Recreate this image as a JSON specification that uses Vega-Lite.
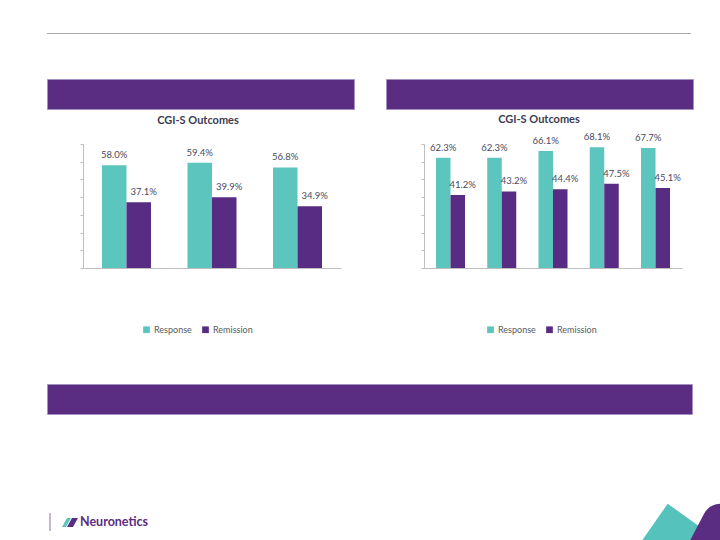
{
  "$schema": "https://vega.github.io/schema/vega-lite/v6.json",
  "background": "white",
  "padding": {"left": 46, "top": 33, "right": 0, "bottom": 0},
  "config": {
    "view": {"stroke": null},
    "font": "Lato",
    "axis": {"grid": false, "title": null, "domainColor": "#bfbfbf", "tickColor": "#bfbfbf"}
  },
  "resolve": {"legend": {"color": "independent"}, "scale": {"x": "independent", "y": "independent", "xOffset": "independent", "color": "independent"}},
  "spacing": 44,
  "vconcat": [
    {
      "width": 644, "height": 1,
      "view": {"fill": "#a9a9a9", "stroke": null},
      "data": {"values": [{}]},
      "mark": {"type": "point", "size": 0, "strokeWidth": 0, "opacity": 0},
      "encoding": {}
    },
    {
      "spacing": 4,
      "resolve": {"legend": {"color": "independent"}, "scale": {"x": "independent", "y": "independent", "xOffset": "independent", "color": "independent"}},
      "vconcat": [
        {
          "spacing": 30,
          "hconcat": [
            {
              "width": 307, "height": 30,
              "view": {"fill": "#5a2d82", "stroke": "#a690c2", "strokeWidth": 1},
              "data": {"values": [{}]},
              "mark": {"type": "point", "size": 0, "strokeWidth": 0, "opacity": 0},
              "encoding": {}
            },
            {
              "width": 307, "height": 30,
              "view": {"fill": "#5a2d82", "stroke": "#a690c2", "strokeWidth": 1},
              "data": {"values": [{}]},
              "mark": {"type": "point", "size": 0, "strokeWidth": 0, "opacity": 0},
              "encoding": {}
            }
          ]
        },
        {
          "spacing": 48,
          "resolve": {"legend": {"color": "independent"}, "scale": {"x": "independent", "y": "independent", "xOffset": "independent", "color": "independent"}},
          "vconcat": [
            {
              "spacing": 0,
              "resolve": {"legend": {"color": "independent"}, "scale": {"x": "independent", "y": "independent", "xOffset": "independent", "color": "independent"}},
              "hconcat": [
                {
                  "width": 1, "height": 1,
                  "data": {"values": [{}]},
                  "mark": {"type": "point", "size": 0, "strokeWidth": 0, "opacity": 0},
                  "encoding": {}
                },
                {
                  "width": 258, "height": 124,
                  "title": {"text": "CGI-S Outcomes", "frame": "group", "anchor": "middle", "dx": -14, "fontSize": 11, "font": "Lato", "fontWeight": "bold", "color": "#3c3c50", "offset": 18},
                  "data": {"values": [
                    {"group": "1", "measure": "Response", "value": 0.580},
                    {"group": "1", "measure": "Remission", "value": 0.371},
                    {"group": "2", "measure": "Response", "value": 0.594},
                    {"group": "2", "measure": "Remission", "value": 0.399},
                    {"group": "3", "measure": "Response", "value": 0.568},
                    {"group": "3", "measure": "Remission", "value": 0.349}
                  ]},
                  "encoding": {
                    "x": {"field": "group", "type": "nominal", "scale": {"paddingInner": 0.427, "paddingOuter": 0.222}, "axis": {"labels": false, "ticks": false}},
                    "xOffset": {"field": "measure", "type": "nominal", "sort": ["Response", "Remission"]},
                    "y": {"field": "value", "type": "quantitative", "scale": {"domain": [0, 0.7]}, "axis": {"labels": false, "tickSize": 3, "values": [0, 0.1, 0.2, 0.3, 0.4, 0.5, 0.6, 0.7], "minExtent": 35, "maxExtent": 35}}
                  },
                  "layer": [
                    {
                      "mark": {"type": "bar"},
                      "encoding": {
                        "color": {"field": "measure", "type": "nominal", "sort": ["Response", "Remission"], "scale": {"domain": ["Response", "Remission"], "range": ["#5bc5be", "#582c83"]},
                          "legend": {"orient": "none", "legendX": 59, "legendY": 181, "direction": "horizontal", "title": null, "symbolType": "square", "symbolSize": 45, "labelFontSize": 9, "labelFont": "Lato", "labelColor": "#595959", "columnPadding": 9, "labelOffset": 3, "padding": 0, "symbolStrokeWidth": 0}}
                      }
                    },
                    {
                      "transform": [{"filter": "datum.measure === 'Response'"}],
                      "mark": {"type": "text", "baseline": "alphabetic", "dy": -7, "fontSize": 9.5, "font": "Lato", "color": "#4a4a5e"},
                      "encoding": {"text": {"field": "value", "type": "quantitative", "format": ".1%"}}
                    },
                    {
                      "transform": [{"filter": "datum.measure === 'Remission'"}],
                      "mark": {"type": "text", "baseline": "alphabetic", "dy": -7, "dx": 5, "fontSize": 9.5, "font": "Lato", "color": "#4a4a5e"},
                      "encoding": {"text": {"field": "value", "type": "quantitative", "format": ".1%"}}
                    }
                  ]
                },
                {
                  "width": 258, "height": 124,
                  "title": {"text": "CGI-S Outcomes", "frame": "group", "anchor": "middle", "dx": -14, "fontSize": 11, "font": "Lato", "fontWeight": "bold", "color": "#3c3c50", "offset": 7},
                  "data": {"values": [
                    {"group": "1", "measure": "Response", "value": 0.623},
                    {"group": "1", "measure": "Remission", "value": 0.412},
                    {"group": "2", "measure": "Response", "value": 0.623},
                    {"group": "2", "measure": "Remission", "value": 0.432},
                    {"group": "3", "measure": "Response", "value": 0.661},
                    {"group": "3", "measure": "Remission", "value": 0.444},
                    {"group": "4", "measure": "Response", "value": 0.681},
                    {"group": "4", "measure": "Remission", "value": 0.475},
                    {"group": "5", "measure": "Response", "value": 0.677},
                    {"group": "5", "measure": "Remission", "value": 0.451}
                  ]},
                  "encoding": {
                    "x": {"field": "group", "type": "nominal", "scale": {"paddingInner": 0.434, "paddingOuter": 0.234}, "axis": {"labels": false, "ticks": false}},
                    "xOffset": {"field": "measure", "type": "nominal", "sort": ["Response", "Remission"]},
                    "y": {"field": "value", "type": "quantitative", "scale": {"domain": [0, 0.7]}, "axis": {"labels": false, "tickSize": 3, "values": [0, 0.1, 0.2, 0.3, 0.4, 0.5, 0.6, 0.7], "minExtent": 83, "maxExtent": 83}}
                  },
                  "layer": [
                    {
                      "mark": {"type": "bar"},
                      "encoding": {
                        "color": {"field": "measure", "type": "nominal", "sort": ["Response", "Remission"], "scale": {"domain": ["Response", "Remission"], "range": ["#5bc5be", "#582c83"]},
                          "legend": {"orient": "none", "legendX": 62, "legendY": 181, "direction": "horizontal", "title": null, "symbolType": "square", "symbolSize": 45, "labelFontSize": 9, "labelFont": "Lato", "labelColor": "#595959", "columnPadding": 9, "labelOffset": 3, "padding": 0, "symbolStrokeWidth": 0}}
                      }
                    },
                    {
                      "transform": [{"filter": "datum.measure === 'Response'"}],
                      "mark": {"type": "text", "baseline": "alphabetic", "dy": -7, "fontSize": 9.5, "font": "Lato", "color": "#4a4a5e"},
                      "encoding": {"text": {"field": "value", "type": "quantitative", "format": ".1%"}}
                    },
                    {
                      "transform": [{"filter": "datum.measure === 'Remission'"}],
                      "mark": {"type": "text", "baseline": "alphabetic", "dy": -7, "dx": 5, "fontSize": 9.5, "font": "Lato", "color": "#4a4a5e"},
                      "encoding": {"text": {"field": "value", "type": "quantitative", "format": ".1%"}}
                    }
                  ]
                }
              ]
            },
            {
              "spacing": 87,
              "vconcat": [
                {
                  "width": 645, "height": 30,
                  "view": {"fill": "#5a2d82", "stroke": "#a690c2", "strokeWidth": 1},
                  "data": {"values": [{}]},
                  "mark": {"type": "point", "size": 0, "strokeWidth": 0, "opacity": 0},
                  "encoding": {}
                },
                {
                  "spacing": 492,
                  "hconcat": [
                    {
                      "width": 66, "height": 40,
                      "data": {"values": [{}]},
                      "layer": [
                        {"mark": {"type": "point", "shape": "M-30,-9L-30,9", "filled": false, "stroke": "#8e6aa9", "strokeWidth": 1, "size": 4, "opacity": 1}, "encoding": {}},
                        {"mark": {"type": "point", "shape": "M-18,5L-13,-4L-9,-4L-14,5Z", "filled": true, "color": "#5bc5be", "strokeWidth": 0, "size": 4, "opacity": 1}, "encoding": {}},
                        {"mark": {"type": "point", "shape": "M-13,5L-8,-4L-2,-4L-7,5Z", "filled": true, "color": "#5b2c83", "strokeWidth": 0, "size": 4, "opacity": 1}, "encoding": {}},
                        {"mark": {"type": "text", "align": "left", "baseline": "middle", "font": "Lato", "fontSize": 12.5, "fontWeight": "bold", "color": "#5b2c83"}, "encoding": {"text": {"value": "Neuronetics"}}}
                      ]
                    },
                    {
                      "width": 80, "height": 40,
                      "data": {"values": [{}]},
                      "layer": [
                        {"mark": {"type": "point", "shape": "M-13.3,-18.3L-40,20L40,20Z", "filled": true, "color": "#55c3bb", "strokeWidth": 0, "size": 4, "opacity": 1}, "encoding": {}},
                        {"mark": {"type": "point", "shape": "M8.3,20L23,-8.3Q29,-18.5 40,-18.3L40,20Z", "filled": true, "color": "#5a2d82", "strokeWidth": 0, "size": 4, "opacity": 1}, "encoding": {}}
                      ]
                    }
                  ]
                }
              ]
            }
          ]
        }
      ]
    }
  ]
}
